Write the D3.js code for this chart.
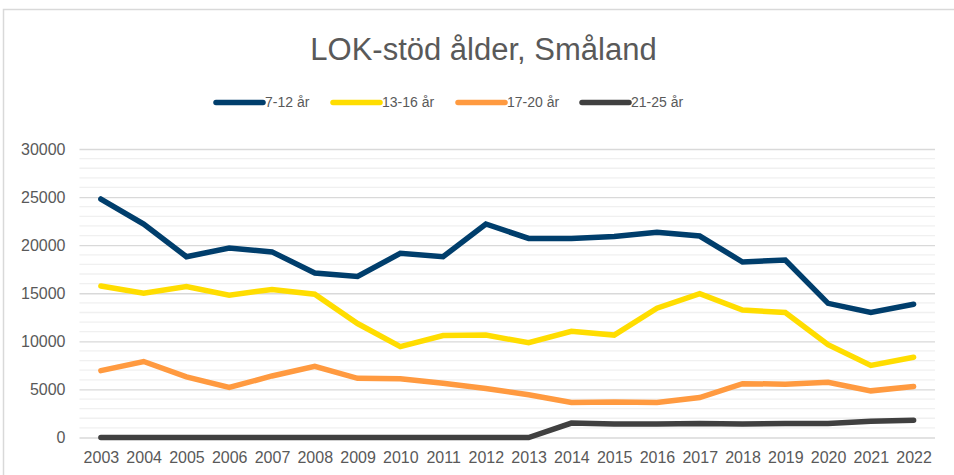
<!DOCTYPE html>
<html>
<head>
<meta charset="utf-8">
<script src="https://cdn.jsdelivr.net/npm/d3@7"></script>
<style>
  body { margin: 0; background: #fff; }
  svg { display: block; font-family: "Liberation Sans", Arial, sans-serif; }
</style>
</head>
<body>
<svg id="chart"></svg>
<script>
const years = [2003, 2004, 2005, 2006, 2007, 2008, 2009, 2010, 2011, 2012,
               2013, 2014, 2015, 2016, 2017, 2018, 2019, 2020, 2021, 2022];
const age7to12 = [24800, 22200, 18800, 19700, 19300, 17100, 16750, 19150, 18800, 22200,
                  20700, 20700, 20900, 21350, 20950, 18250, 18450, 13950, 13000, 13850];
const age13to16 = [15750, 15000, 15700, 14800, 15400, 14900, 11850, 9450, 10600, 10650,
                   9850, 11050, 10650, 13450, 14950, 13250, 13000, 9650, 7500, 8350];
const age17to20 = [6950, 7900, 6300, 5200, 6400, 7400, 6150, 6100, 5650, 5100,
                   4450, 3650, 3700, 3650, 4150, 5600, 5550, 5750, 4850, 5300];
const age21to25 = [0, 0, 0, 0, 0, 0, 0, 0, 0, 0,
                   0, 1500, 1400, 1400, 1450, 1400, 1450, 1450, 1700, 1800];
const seriesNames = ["7-12 år", "13-16 år", "17-20 år", "21-25 år"];
const seriesColors = ["#003e6c", "#ffdd00", "#ff9a40", "#404040"];
const yTicks = [0, 5000, 10000, 15000, 20000, 25000, 30000];

const W = 954, H = 475;
const margin = { top: 149, right: 19, bottom: 37.5, left: 79.5 };
const svg = d3.select("#chart").attr("width", W).attr("height", H);

// chart frame (only left and top edges visible)
svg.append("path")
    .attr("d", `M3.5,${H} V9.5 H${W}`)
    .attr("fill", "none")
    .attr("stroke", "#d9d9d9")
    .attr("stroke-width", 1.5);

svg.append("text")
    .attr("x", 483.5).attr("y", 59.5)
    .attr("text-anchor", "middle")
    .attr("font-size", 31)
    .attr("fill", "#595959")
    .text("LOK-stöd ålder, Småland");

const x = d3.scalePoint()
    .domain(years)
    .range([margin.left, W - margin.right])
    .padding(0.5);
const y = d3.scaleLinear()
    .domain([0, 30000])
    .range([H - margin.bottom, margin.top]);

// minor gridlines
svg.append("g")
    .selectAll("line")
    .data(d3.range(1000, 30001, 1000).filter(v => v % 5000 !== 0))
    .join("line")
    .attr("x1", margin.left).attr("x2", W - margin.right)
    .attr("y1", d => y(d)).attr("y2", d => y(d))
    .attr("stroke", "#f0f0f0").attr("stroke-width", 1.3);

// major gridlines + y labels
const yAxis = svg.append("g")
    .attr("transform", `translate(${margin.left},0)`)
    .call(d3.axisLeft(y).tickValues(yTicks).tickFormat(d3.format("d"))
        .tickSize(-(W - margin.right - margin.left)).tickPadding(14));
yAxis.select(".domain").remove();
yAxis.selectAll(".tick line").attr("stroke", "#d9d9d9").attr("stroke-width", 1.3);
yAxis.selectAll(".tick text")
    .attr("font-size", 16).attr("fill", "#595959")
    .attr("font-family", "Liberation Sans, Arial, sans-serif");

// x labels
const xAxis = svg.append("g")
    .attr("transform", `translate(0,${y(0)})`)
    .call(d3.axisBottom(x).tickSize(0).tickPadding(14));
xAxis.select(".domain").remove();
xAxis.selectAll(".tick text")
    .attr("font-size", 16).attr("fill", "#595959")
    .attr("font-family", "Liberation Sans, Arial, sans-serif");

const allSeries = [age7to12, age13to16, age17to20, age21to25];
const line = d3.line()
    .x((d, i) => x(years[i]))
    .y(d => y(d));

svg.append("g")
    .selectAll("path")
    .data(allSeries)
    .join("path")
    .attr("d", d => line(d))
    .attr("fill", "none")
    .attr("stroke", (d, i) => seriesColors[i])
    .attr("stroke-width", 5.5)
    .attr("stroke-linejoin", "miter")
    .attr("stroke-linecap", "round");

// legend
const legendX = [216, 333, 458, 582];
const legend = svg.append("g")
    .selectAll("g")
    .data(seriesNames)
    .join("g")
    .attr("transform", (d, i) => `translate(${legendX[i]},102.5)`);
legend.append("line")
    .attr("x1", 0).attr("x2", 47)
    .attr("stroke", (d, i) => seriesColors[i])
    .attr("stroke-width", 5.5)
    .attr("stroke-linecap", "round");
legend.append("text")
    .attr("x", 49).attr("dy", "0.35em")
    .attr("font-size", 14).attr("fill", "#595959")
    .text(d => d);
</script>
</body>
</html>
